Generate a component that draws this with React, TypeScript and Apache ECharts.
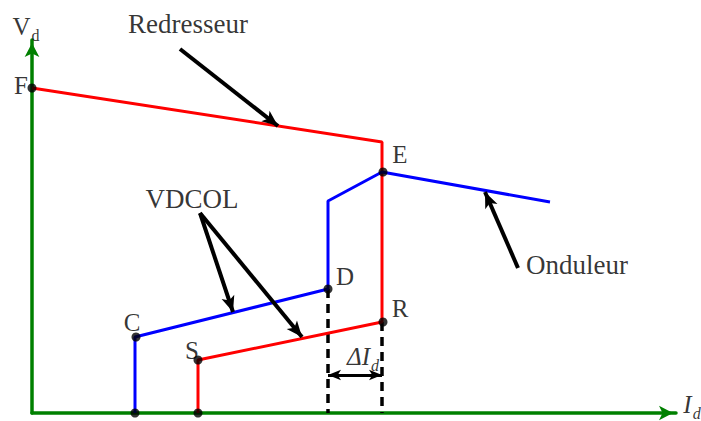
import { useEffect, useRef } from 'react';
import * as echarts from 'echarts';

// Static Vd–Id characteristic of an HVDC link (drawing units: Id → right, Vd → up)
const rectifierCurve: [number, number][] = [[0, 325], [350, 271], [350, 91], [166, 53], [166, 0]];
const inverterCurve: [number, number][] = [[103, 0], [103, 76], [296, 124], [296, 212], [350, 241], [518, 211]];
const nodePoints: [number, number][] = [[0, 325], [351, 241], [296, 124], [351, 91], [104, 76], [166, 53], [103, 0], [166, 0]];
const marginD: [number, number][] = [[296, 124], [296, 0]];
const marginR: [number, number][] = [[350, 91], [350, 0]];

// Point letters and captions: [text, Id, Vd]
const pointLabels: [string, number, number][] = [
  ['F', -11, 328], ['E', 368, 259], ['D', 313, 137], ['R', 368, 105], ['C', 100, 91], ['S', 160, 63],
];
const captions: [string, number, number][] = [
  ['Redresseur', 156, 389], ['VDCOL', 160, 214], ['Onduleur', 545, 148],
];

// Pointer arrows: [from, tip]
const pointers: [[number, number], [number, number]][] = [
  [[148, 364], [246, 287]],
  [[168, 200], [201, 101]],
  [[168, 200], [270, 76]],
  [[486, 145], [453, 221]],
];
// ΔId span: [from Id, to Id, Vd]
const deltaSpan: [number, number, number] = [296, 350, 38];

const FONT = "'Liberation Serif', 'Times New Roman', serif";
const GREEN = '#008000';

export default function App() {
  const ref = useRef<HTMLDivElement>(null);

  useEffect(() => {
    if (!ref.current) return;
    const chart = echarts.init(ref.current, undefined, { renderer: 'svg' });

    const arrowLines = pointers.map(([a, b]) => [{ coord: a }, { coord: b }]);

    const axisLine = {
      show: true, onZero: false, symbol: ['none', 'arrow'], symbolSize: [11, 14], symbolOffset: [0, -3],
      lineStyle: { color: GREEN, width: 3.5 },
    };

    const sub = (italic: boolean) => ({
      v: { fontFamily: FONT, fontSize: 25, fontStyle: italic ? 'italic' : 'normal', color: '#000', verticalAlign: 'bottom', lineHeight: 26 },
      s: { fontFamily: FONT, fontSize: 16, fontStyle: italic ? 'italic' : 'normal', color: '#000', verticalAlign: 'bottom', lineHeight: 18, padding: [0, 0, -4, 1] },
    });

    chart.setOption({
      animation: false,
      backgroundColor: '#fff',
      grid: { left: 32, right: 25, top: 40, bottom: 8, containLabel: false },
      xAxis: {
        type: 'value', min: 0, max: 644, axisLine,
        axisTick: { show: false }, axisLabel: { show: false }, splitLine: { show: false },
      },
      yAxis: {
        type: 'value', min: 0, max: 373, axisLine,
        axisTick: { show: false }, axisLabel: { show: false }, splitLine: { show: false },
      },
      series: [
        {
          type: 'line', data: marginD, symbol: 'none', z: 2,
          lineStyle: { color: '#000', width: 3.5, type: [9, 6] },
        },
        {
          type: 'line', data: marginR, symbol: 'none', z: 2,
          lineStyle: { color: '#000', width: 3.5, type: [9, 6] },
        },
        {
          type: 'line', data: rectifierCurve, symbol: 'none', z: 3,
          lineStyle: { color: '#ff0000', width: 3 },
          markLine: {
            silent: true, symbol: ['none', 'arrow'], symbolSize: [10, 16],
            label: { show: false },
            lineStyle: { color: '#000', width: 4, type: 'solid' },
            data: arrowLines,
          },
        },
        {
          type: 'line', data: inverterCurve, symbol: 'none', z: 3,
          lineStyle: { color: '#0000ff', width: 3 },
          markLine: {
            silent: true, symbol: ['arrow', 'arrow'], symbolSize: [8, 13],
            label: { show: false },
            lineStyle: { color: '#000', width: 3, type: 'solid' },
            data: [[
              { coord: [deltaSpan[0], deltaSpan[2]] },
              { coord: [deltaSpan[1], deltaSpan[2]] },
            ]],
          },
        },
        {
          type: 'scatter', data: nodePoints, symbolSize: 9, z: 5,
          itemStyle: { color: '#000' },
        },
        {
          type: 'scatter', symbolSize: 0, z: 6, clip: false, silent: true,
          data: [
            ...pointLabels.map(([t, x, y]) => ({ value: [x, y], name: t, label: { fontSize: 25 } })),
            ...captions.map(([t, x, y]) => ({ value: [x, y], name: t, label: { fontSize: 27 } })),
          ],
          label: {
            show: true, position: 'inside', formatter: (p: any) => p.name,
            fontFamily: FONT, color: '#000',
          },
        },
        {
          type: 'scatter', symbolSize: 0, z: 6, clip: false, silent: true,
          data: [
            { value: [-6, 387], label: { formatter: '{v|V}{s|d}', rich: sub(false) } },
            { value: [331, 57], label: { formatter: '{v|ΔI}{s|d}', rich: sub(true) } },
            { value: [660, 9], label: { formatter: '{v|I}{s|d}', rich: sub(true) } },
          ],
          label: { show: true, position: 'inside' },
        },
      ],
    });

    return () => chart.dispose();
  }, []);

  return <div ref={ref} style={{ position: 'fixed', left: 0, top: 0, width: 701, height: 421 }} />;
}
